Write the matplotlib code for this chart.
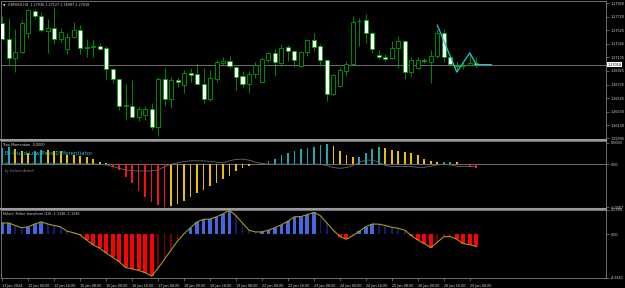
import matplotlib
matplotlib.use("Agg")
import matplotlib.pyplot as plt
from matplotlib.lines import Line2D

# GBPUSD H4 candles (11 Jan 2024 08:00 .. 29 Jan 2024 12:00)
opens = [1.27634, 1.27397, 1.27110, 1.27199, 1.27476, 1.27807, 1.27732, 1.27515, 1.27560, 1.27397,
         1.27248, 1.27426, 1.27525, 1.27268, 1.27283, 1.27293, 1.27263, 1.26952, 1.26803, 1.26408,
         1.26418, 1.26251, 1.26275, 1.26360, 1.26102, 1.26803, 1.26507, 1.26788, 1.26715, 1.26893,
         1.26878, 1.26740, 1.26517, 1.26813, 1.27041, 1.27076, 1.26987, 1.26848, 1.26740, 1.26883,
         1.26769, 1.27081, 1.27189, 1.27041, 1.27273, 1.27214, 1.26992, 1.27199, 1.27377, 1.27288,
         1.27081, 1.26582, 1.26705, 1.26927, 1.27031, 1.27653, 1.27668, 1.27485, 1.27159, 1.27125,
         1.27115, 1.27263, 1.27362, 1.26907, 1.26967, 1.27086, 1.27056, 1.27150, 1.27485, 1.27130,
         1.27016, 1.26992, 1.27016, 1.27036]
highs = [1.27732, 1.27708, 1.27535, 1.27673, 1.27831, 1.27831, 1.27792, 1.27683, 1.27866, 1.27560,
         1.27485, 1.27648, 1.27599, 1.27397, 1.27387, 1.27337, 1.27288, 1.26967, 1.26818, 1.26734,
         1.26794, 1.26418, 1.26418, 1.26448, 1.26833, 1.26967, 1.26833, 1.26843, 1.26932, 1.26967,
         1.27041, 1.26967, 1.26932, 1.27081, 1.27125, 1.27150, 1.27011, 1.26918, 1.26918, 1.27051,
         1.27125, 1.27199, 1.27253, 1.27322, 1.27298, 1.27238, 1.27214, 1.27397, 1.27485, 1.27313,
         1.27091, 1.26883, 1.26977, 1.27066, 1.27732, 1.27708, 1.27757, 1.27510, 1.27238, 1.27174,
         1.27362, 1.27436, 1.27377, 1.27130, 1.27130, 1.27110, 1.27238, 1.27535, 1.27545, 1.27150,
         1.27066, 1.27056, 1.27189, 1.27127]
lows = [1.27387, 1.27016, 1.26903, 1.27189, 1.27411, 1.27683, 1.27495, 1.27189, 1.27313, 1.27347,
        1.27179, 1.27411, 1.27179, 1.27125, 1.27125, 1.27238, 1.26794, 1.26754, 1.26350, 1.26201,
        1.26241, 1.26191, 1.26211, 1.26053, 1.25969, 1.26408, 1.26384, 1.26685, 1.26596, 1.26769,
        1.26720, 1.26458, 1.26488, 1.26769, 1.27016, 1.26967, 1.26646, 1.26695, 1.26606, 1.26823,
        1.26759, 1.27051, 1.26853, 1.26992, 1.27076, 1.26977, 1.26982, 1.27150, 1.27214, 1.26992,
        1.26488, 1.26572, 1.26685, 1.26853, 1.27016, 1.27288, 1.27337, 1.27189, 1.27100, 1.27066,
        1.27100, 1.26967, 1.26803, 1.26853, 1.26952, 1.27041, 1.26754, 1.27115, 1.27051, 1.27016,
        1.26918, 1.26952, 1.27002, 1.26987]
closes = [1.27397, 1.27110, 1.27209, 1.27624, 1.27816, 1.27723, 1.27525, 1.27555, 1.27397, 1.27500,
          1.27426, 1.27525, 1.27258, 1.27278, 1.27293, 1.27253, 1.26952, 1.26808, 1.26408, 1.26433,
          1.26251, 1.26360, 1.26364, 1.26102, 1.26808, 1.26507, 1.26788, 1.26759, 1.26893, 1.26868,
          1.26740, 1.26517, 1.26818, 1.27056, 1.27076, 1.26992, 1.26838, 1.26740, 1.26883, 1.27011,
          1.27100, 1.27189, 1.27051, 1.27263, 1.27214, 1.27081, 1.27204, 1.27377, 1.27283, 1.27081,
          1.26582, 1.26863, 1.26937, 1.27031, 1.27648, 1.27663, 1.27485, 1.27248, 1.27130, 1.27105,
          1.27263, 1.27362, 1.26907, 1.27081, 1.27081, 1.27066, 1.27140, 1.27485, 1.27130, 1.27026,
          1.26997, 1.27016, 1.27041, 1.27018]

# zigzag (bar index, price)
zz_bar = [67, 70, 72, 73, 75.3]
zz_price = [1.27594, 1.26908, 1.27189, 1.27018, 1.27018]

price_ticks = [1.27920, 1.27720, 1.27525, 1.27325, 1.27125, 1.26925, 1.26725,
               1.26525, 1.26330, 1.26130, 1.25935]

# True Momentum histogram (x 1e-4) and its signal line; state T=up, Y=fading, R=down
mom = [2.64, 2.75, 2.45, 2.20, 1.82, 2.20, 2.37, 2.30, 2.20, 2.10,
       1.55, 1.43, 1.27, 1.10, 0.88, 0.44, 0.17, -0.50, -0.94, -2.04,
       -3.14, -4.41, -5.34, -6.17, -6.72, -7.00, -6.83, -6.45, -6.06, -5.34,
       -4.68, -4.13, -3.53, -3.14, -2.48, -1.87, -1.10, -0.55, -0.22, 0.05,
       0.22, 0.55, 0.88, 1.43, 1.82, 2.20, 2.53, 2.64, 2.87, 3.20,
       3.31, 2.92, 2.20, 1.43, 1.10, 1.21, 1.82, 2.53, 2.87, 2.64,
       2.37, 2.09, 1.98, 1.76, 1.43, 0.88, 0.55, 0.33, 0.36, 0.44,
       0.33, 0.05, -0.39, -0.55]
mom_state = list("TTYYYTTYYYYYYYYYYRRRRRRRRRYYYYYYYYYYYYYYTTTTTTTTTTTYYYYTTTTYYYYYYYYYTTYYRR")
mom_signal = [0.05, 0.05, 0.05, 0.05, 0.05, 0.05, 0.05, 0.05, 0.05, 0.05,
              0.05, 0.05, 0.05, 0.05, 0.05, 0.0, -0.11, -0.39, -0.66, -0.94,
              -1.05, -1.10, -1.10, -1.10, -0.94, -0.39, 0.0, 0.22, 0.44, 0.55,
              0.55, 0.55, 0.44, 0.33, 0.22, 0.55, 0.77, 0.83, 0.66, 0.33,
              0.11, 0.0, 0.0, 0.0, 0.0, 0.0, 0.0, 0.0, 0.0, 0.0,
              -0.22, -0.55, -0.66, -0.55, -0.22, 0.33, 0.66, 0.66, 0.33, -0.22,
              -0.39, -0.39, -0.39, -0.39, -0.50, -0.50, -0.33, -0.11, 0.0, -0.11,
              -0.33, -0.39, -0.39, -0.39]

# Ehlers Fisher transform (10)
fisher = [1.19, 1.19, 0.92, 0.69, 0.77, 1.08, 1.31, 1.08, 0.92, 0.77,
          0.31, 0.15, -0.08, -0.62, -1.12, -1.50, -2.00, -2.46, -2.92, -3.54,
          -3.69, -3.85, -4.08, -4.46, -3.62, -2.65, -1.69, -0.73, 0.04, 0.69,
          1.31, 1.58, 1.60, 1.85, 2.15, 2.54, 1.96, 1.19, 0.42, 0.23,
          0.25, 0.42, 0.69, 1.00, 1.38, 1.85, 1.87, 2.08, 2.31, 1.96,
          1.19, 0.42, -0.27, -0.54, -0.15, 0.31, 0.81, 1.08, 1.06, 0.92,
          0.73, 0.62, 0.42, -0.15, -0.62, -1.00, -1.42, -0.85, -0.27, -0.26,
          -0.54, -1.00, -1.12, -1.31]

time_ticks = list(range(0, 74, 4))
time_labels = ["11 Jan 2024", "12 Jan 00:00", "12 Jan 16:00", "15 Jan 08:00", "16 Jan 00:00",
               "16 Jan 16:00", "17 Jan 08:00", "18 Jan 00:00", "18 Jan 16:00", "19 Jan 08:00",
               "22 Jan 00:00", "22 Jan 16:00", "23 Jan 08:00", "24 Jan 00:00", "24 Jan 16:00",
               "25 Jan 08:00", "26 Jan 00:00", "26 Jan 16:00", "29 Jan 08:00"]

W, H = 625, 288
BG = "black"
GRID = "#808080"
TXT = "#d8d8d8"
GREEN = "#00a000"
FS = 2.4


def rect(x0, y0, x1, y1):
    return [x0 / W, 1 - y1 / H, (x1 - x0) / W, (y1 - y0) / H]


fig = plt.figure(figsize=(W / 100, H / 100), dpi=100, facecolor=BG)
ax1 = fig.add_axes(rect(0.5, 1, 606, 138.5))
ax2 = fig.add_axes(rect(0.5, 140.5, 606, 207.5))
ax3 = fig.add_axes(rect(0.5, 209.5, 606, 278))

xlim = (-1.7 / 6.5, (606 - 1.7) / 6.5)
n = len(closes)
idx = list(range(n))

for ax in (ax1, ax2, ax3):
    ax.set_facecolor(BG)
    ax.set_xlim(*xlim)
    for s in ax.spines.values():
        s.set_color(GRID)
        s.set_linewidth(0.6)
    ax.yaxis.tick_right()
    ax.tick_params(axis="y", colors=GRID, labelcolor=TXT, labelsize=FS, length=2.5,
                   width=0.5, pad=1)
    ax.tick_params(axis="x", bottom=False, labelbottom=False)

# ---- main price panel
ax1.set_ylim(1.25935, 1.27950)
ax1.vlines(idx, lows, highs, color=GREEN, lw=0.6, zorder=2)
bodies_lo = [min(o, c) for o, c in zip(opens, closes)]
bodies_h = [max(abs(c - o), 0.000015) for o, c in zip(opens, closes)]
fills = ["black" if c > o else "white" for o, c in zip(opens, closes)]
ax1.bar(idx, bodies_h, bottom=bodies_lo, width=0.62, color=fills, edgecolor=GREEN,
        linewidth=0.6, zorder=3)
ax1.axhline(closes[-1], color="#808080", lw=0.6, zorder=1)
ax1.plot(zz_bar, zz_price, color="#1ec8dc", lw=0.9, zorder=4)
ax1.set_yticks(price_ticks)
ax1.set_yticklabels([f"{p:.5f}" for p in price_ticks])
ax1.text(1.002, (closes[-1] - 1.25935) / (1.27950 - 1.25935), f"{closes[-1]:.5f}",
         transform=ax1.transAxes, fontsize=FS, color="black", va="center", ha="left",
         bbox=dict(boxstyle="square,pad=0.15", fc="white", ec="white", lw=0))
ax1.text(0.004, 0.985, "\u25bc  GBPUSD,H4  %.5f %.5f %.5f %.5f" % (opens[-1], highs[-1], lows[-1], closes[-1]),
         transform=ax1.transAxes, fontsize=FS, color=TXT, va="top", ha="left")

# ---- True Momentum panel
ax2.set_ylim(-7.05, 3.86)
mcol = {"T": "#20a8b0", "Y": "#e8c000", "R": "#ff1010"}
ax2.axhline(0, color="#808080", lw=0.6, zorder=1)
ax2.bar(idx, mom, width=0.28, color=[mcol[s] for s in mom_state], zorder=2)
ax2.plot(idx, mom_signal, color="#6a6a6a", lw=0.6, zorder=3)
ax2.set_yticks([3.5, 0, -7.0])
ax2.set_yticklabels(["0.0003", "0.00", "-0.0007"])
ax2.text(0.004, 0.96, "True Momentum -0.0000", transform=ax2.transAxes, fontsize=FS,
         color=TXT, va="top")
ax2.text(0.008, 0.85, "Bi-Quad Low Pass Differentiator", transform=ax2.transAxes,
         fontsize=4.0, color="#2ab8d8", va="top", zorder=5)
ax2.text(0.008, 0.68, "The Cybernetic Stochastic Cycle Engine", transform=ax2.transAxes,
         fontsize=FS, color="#2a9a9a", va="top", zorder=5)
ax2.text(0.008, 0.575, "by Stefanie Andrell", transform=ax2.transAxes, fontsize=FS * 0.9,
         color="#8a8a8a", va="top", zorder=5)

# ---- Fisher transform panel
ax3.set_ylim(-4.66, 2.62)
fcol, fw = [], []
for i, v in enumerate(fisher):
    rising = i == 0 or v >= fisher[i - 1]
    if v >= 0:
        fcol.append("#4169e1" if rising else "#101c70")
    else:
        fcol.append("#ff0000" if not rising else "#7a0000")
    fw.append(0.6 if (v >= 0) == rising else 0.28)
ax3.bar(idx, fisher, width=fw, color=fcol, zorder=2)
ax3.plot(idx, fisher, color="#a89b12", lw=0.8, zorder=3)
ax3.set_yticks([2.5789, 0, -4.6551])
ax3.set_yticklabels(["2.5789", "0.00", "-4.6551"])
ax3.text(0.004, 0.96, "Ehlers' Fisher transform (10) -1.1336 -1.1336", transform=ax3.transAxes,
         fontsize=FS, color=TXT, va="top")

# time axis
ax3.tick_params(axis="x", bottom=True, labelbottom=True, colors=GRID, labelcolor=TXT,
                labelsize=FS, length=2.5, width=0.5, pad=1.5)
ax3.set_xticks(time_ticks)
ax3.set_xticklabels(time_labels, ha="left")

# panel separators
for y in (139.5, 208.5):
    fig.add_artist(Line2D([0, 606 / W], [1 - y / H, 1 - y / H], color="#9a9a9a", lw=1.5))

fig.savefig("out.png", dpi=100, facecolor=BG)
